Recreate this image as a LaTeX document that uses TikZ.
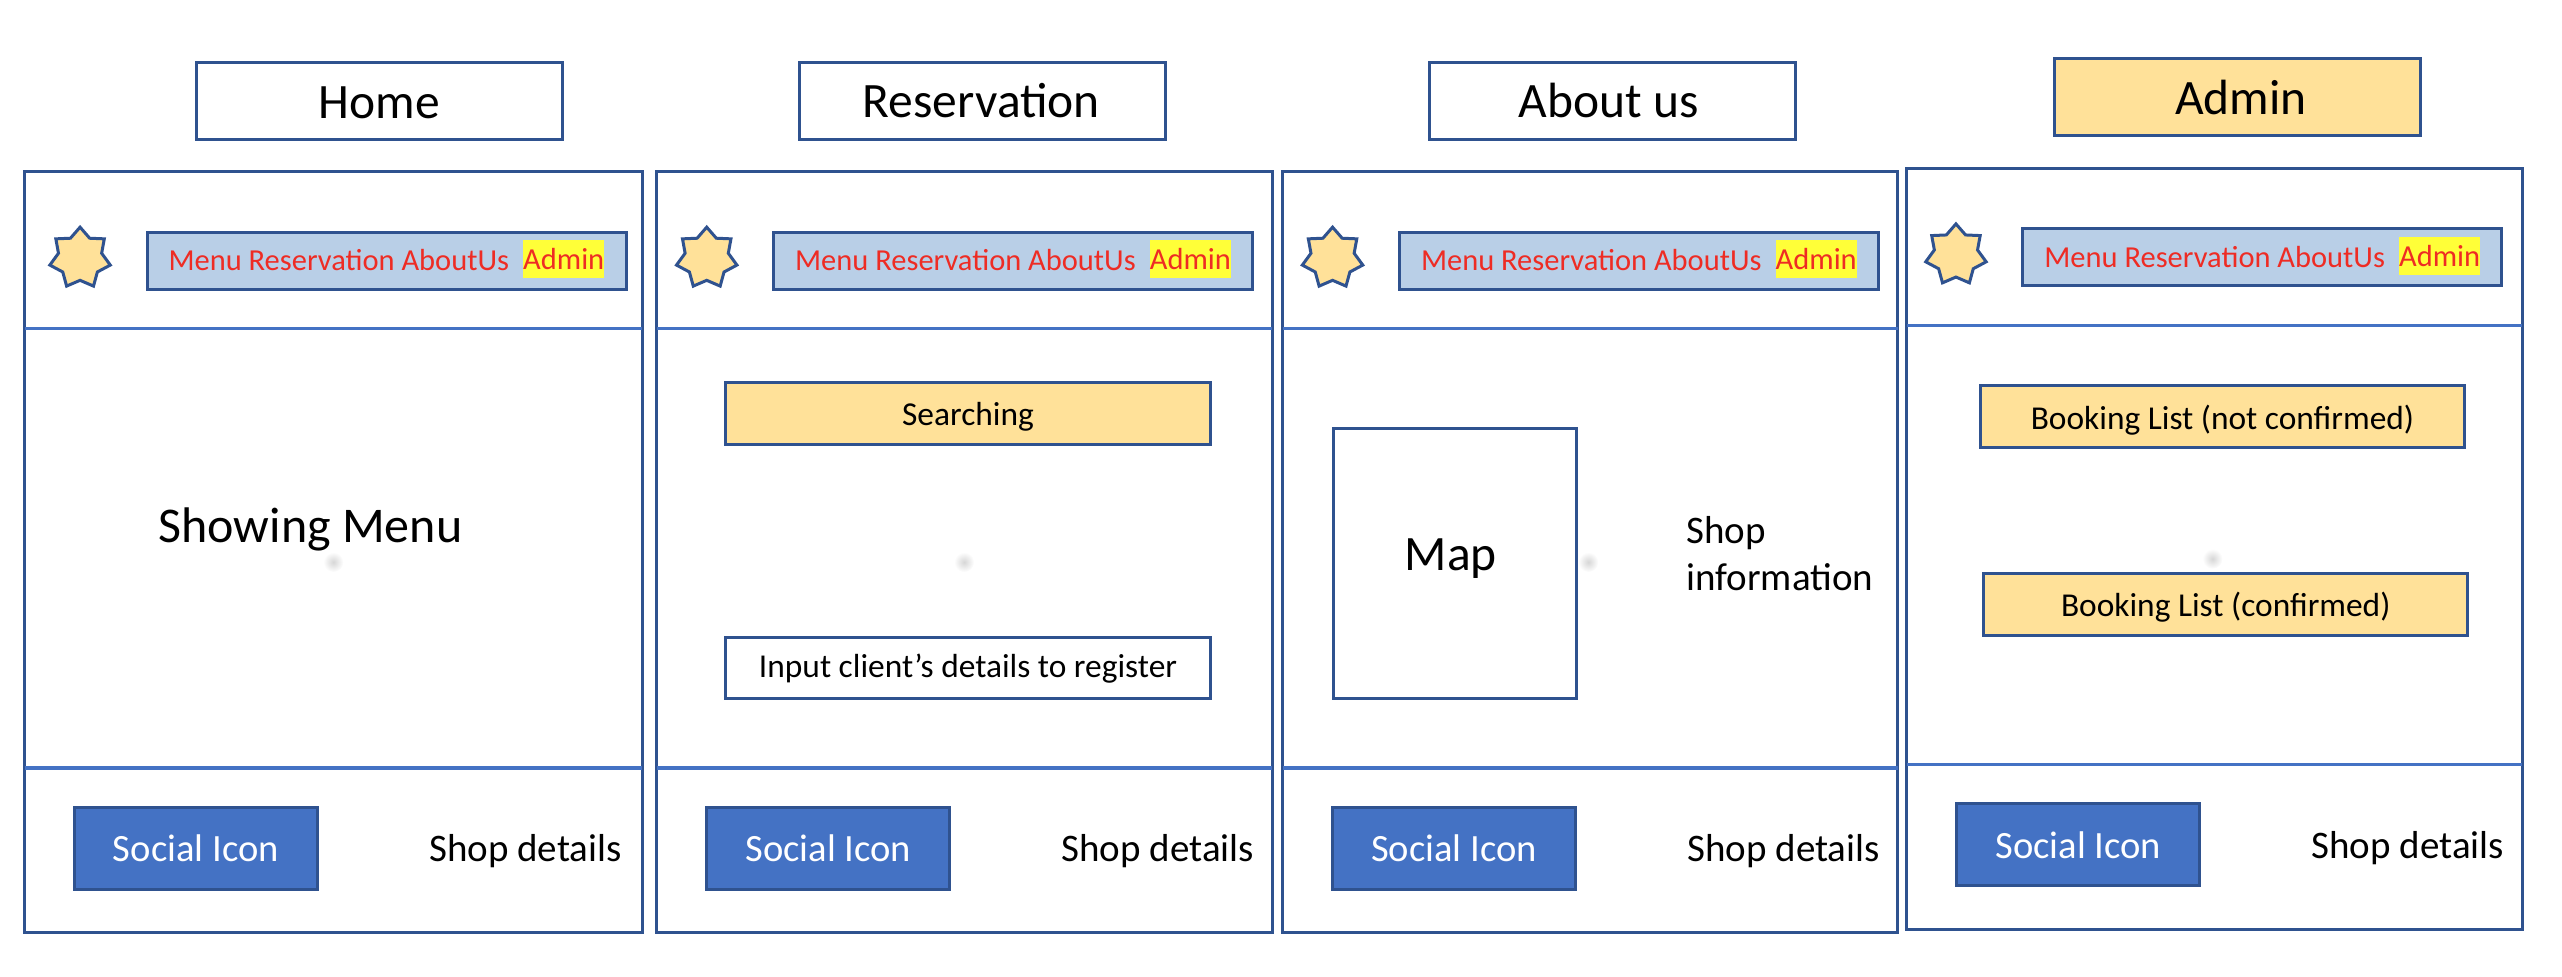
\documentclass[tikz,border=0pt]{standalone}
\usepackage{fontspec}
\setmainfont{Carlito}
\usetikzlibrary{shapes.geometric}
\definecolor{edge}{HTML}{2F528F}
\definecolor{rule}{HTML}{4472C4}
\definecolor{soft}{HTML}{FFE199}
\definecolor{menu}{HTML}{B9CFE7}
\definecolor{redtxt}{HTML}{EE2C24}
\definecolor{hilite}{HTML}{FFFF38}
\tikzset{
  x=1.634pt,y=-1.634pt,
  box/.style={draw=edge,line width=3pt,rectangle,inner sep=0pt,outer sep=0pt},
  titlebox/.style={box,font=\fontsize{49.5}{49.5}\selectfont},
  menubox/.style={box,fill=menu},
  softbox/.style={box,fill=soft,font=\fontsize{33.4}{33.4}\selectfont},
  plainbox/.style={box,fill=white,font=\fontsize{33.4}{33.4}\selectfont},
  socialbox/.style={box,fill=rule,text=white,font=\fontsize{38.6}{38.6}\selectfont},
  body/.style={inner sep=0pt,font=\fontsize{39}{47}\selectfont},
  menutxt/.style={inner sep=0pt,text=redtxt,font=\fontsize{30.5}{30.5}\selectfont},
  adminmark/.style={fill=hilite,inner sep=0pt,text=redtxt,font=\fontsize{30.5}{30.5}\selectfont,minimum width=81pt,minimum height=38pt},
  badge/.style={star,star points=7,star point ratio=1.4,draw=edge,fill=soft,line width=3pt,minimum size=62pt,inner sep=0pt},
  speck/.style={circle,inner color=black!16,outer color=white,draw=none,minimum size=20pt,inner sep=0pt},
  divider/.style={draw=rule,line width=3.3pt}
}
\newcommand{\low}[2]{\raisebox{#1}[0.7em][0.2em]{#2}}
% #1 id, #2 panel left x, #3 top y, #4 title left x, #5 title top y, #6 title text, #7 title fill, #8 header left x, #9 panel width
\newcommand{\wirepanel}[9]{
  \node[titlebox,fill=#7,minimum width=366pt,minimum height=77pt,anchor=north west] (#1title) at (#4,#5) {#6};
  \node[box,minimum width={#9*1.634pt},minimum height=761.4pt,anchor=north west] (#1frame) at (#2,#3) {};
  \coordinate (#1topL) at (#2,#3+96);
  \coordinate (#1topR) at (#2+#9,#3+96);
  \coordinate (#1botL) at (#2,#3+365);
  \coordinate (#1botR) at (#2+#9,#3+365);
  \draw[divider] (#1topL) -- (#1topR);
  \draw[divider] (#1botL) -- (#1botR);
  \node[badge] (#1star) at (#8+34,#3+53) {};
  \node[menubox,minimum width=479pt,minimum height=57pt,anchor=north west] (#1menu) at (#8+75,#3+37) {};
  \node[menutxt,anchor=base west] (#1links) at (#8+88,#3+60.5) {Menu Reservation AboutUs};
  \node[adminmark,anchor=center] (#1admin) at (#8+330,#3+53.5) {Admin};
  \node[socialbox,minimum width=243pt,minimum height=82pt,anchor=north west] (#1social) at (#2+30.5,#3+389) {Social Icon};
  \node[body,anchor=west] (#1shop) at (#2+247.5,#3+416) {Shop details};
}
\begin{document}
\begin{tikzpicture}
\useasboundingbox (0,0) rectangle (1567.9,597.3);
\node[speck] (sa) at (204,344) {};
\node[speck] (sb) at (590,344) {};
\node[speck] (sc) at (972,344) {};
\node[speck] (sd) at (1354,342) {};
\wirepanel{a}{15}{105}{120}{38}{\low{-5.6pt}{Home}}{white}{15}{378}
\wirepanel{b}{402}{105}{489.5}{38}{\hspace*{-3pt}Reservation}{white}{398.5}{376.5}
\wirepanel{c}{785}{105}{875}{38}{\hspace*{-8pt}About us}{white}{781.5}{376.5}
\wirepanel{d}{1167}{103}{1257}{36}{\hspace*{8pt}Admin}{soft}{1163}{376.5}
\node[body,font=\fontsize{50}{50}\selectfont] (amain) at (190,324) {Showing Menu};
\node[softbox,minimum width=485pt,minimum height=62pt,anchor=north west] (bsearch) at (444,234) {\low{-3.3pt}{Searching}};
\node[plainbox,minimum width=485pt,minimum height=61pt,anchor=north west] (binput) at (444,390) {\low{-1.6pt}{Input client’s details to register}};
\node[box,font=\fontsize{49.5}{49.5}\selectfont,minimum width=243pt,minimum height=270pt,anchor=north west] (cmap) at (816,262) {\hspace*{-8pt}\low{5pt}{Map}};
\node[body,anchor=west,align=left] (cinfo) at (1032,339) {Shop\\information};
\node[softbox,minimum width=484pt,minimum height=62pt,anchor=north west] (dopen) at (1212,236) {\low{-5pt}{Booking List (not confirmed)}};
\node[softbox,minimum width=484pt,minimum height=62pt,anchor=north west] (ddone) at (1214,351) {\low{-3.3pt}{Booking List (confirmed)}};
\end{tikzpicture}
\end{document}
